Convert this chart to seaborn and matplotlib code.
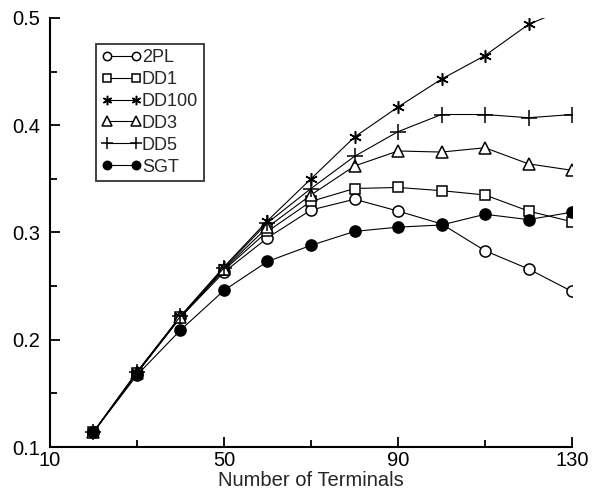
import matplotlib
matplotlib.use("Agg")
import matplotlib.pyplot as plt
import seaborn as sns
import pandas as pd
from matplotlib.ticker import FixedLocator

terminals = [20, 30, 40, 50, 60, 70, 80, 90, 100, 110, 120, 130]
series_names = ["2PL", "DD1", "DD100", "DD3", "DD5", "SGT"]
v_2pl   = [0.114, 0.169, 0.221, 0.263, 0.295, 0.321, 0.331, 0.320, 0.308, 0.283, 0.266, 0.245]
v_dd1   = [0.114, 0.169, 0.221, 0.265, 0.301, 0.329, 0.341, 0.342, 0.339, 0.335, 0.320, 0.310]
v_dd100 = [0.114, 0.170, 0.222, 0.268, 0.311, 0.350, 0.389, 0.417, 0.443, 0.465, 0.494, 0.511]
v_dd3   = [0.114, 0.169, 0.221, 0.266, 0.305, 0.335, 0.362, 0.376, 0.375, 0.379, 0.364, 0.358]
v_dd5   = [0.114, 0.170, 0.222, 0.267, 0.309, 0.341, 0.371, 0.394, 0.410, 0.410, 0.407, 0.410]
v_sgt   = [0.114, 0.167, 0.209, 0.246, 0.273, 0.288, 0.301, 0.305, 0.307, 0.317, 0.312, 0.319]
values = [v_2pl, v_dd1, v_dd100, v_dd3, v_dd5, v_sgt]
x_ticks = [10, 50, 90, 130]
x_minor = [30, 70, 110]
y_ticks = [0.1, 0.2, 0.3, 0.4, 0.5]
y_minor = [0.15, 0.25, 0.35, 0.45]
x_ticklabels = ["10", "50", "90", "130"]
y_ticklabels = ["0.1", "0.2", "0.3", "0.4", "0.5"]

rows = []
for name, vals in zip(series_names, values):
    for t, v in zip(terminals, vals):
        rows.append({"Terminals": t, "Value": v, "Series": name})
df = pd.DataFrame(rows)

sns.set_style("ticks")
plt.rcParams['font.family'] = ['Liberation Sans', 'DejaVu Sans']

fig = plt.figure(figsize=(5.93, 4.97), dpi=100)
ax = fig.add_axes([0.0843, 0.1006, 0.8803, 0.8632])

styles = {
    "2PL":   dict(marker="o", mfc="white", ms=8),
    "DD1":   dict(marker="s", mfc="white", ms=7.5),
    "DD100": dict(marker=(6, 2, 0), mfc="black", ms=9),
    "DD3":   dict(marker="^", mfc="white", ms=9),
    "DD5":   dict(marker="+", mfc="black", ms=11),
    "SGT":   dict(marker="o", mfc="black", ms=8),
}

handles = []
for name in series_names:
    st = styles[name]
    sub = df[df["Series"] == name]
    sns.lineplot(data=sub, x="Terminals", y="Value", ax=ax, color="black",
                 linewidth=0.8, marker=st["marker"], markersize=st["ms"],
                 markerfacecolor=st["mfc"], markeredgecolor="black",
                 markeredgewidth=1.1, label=name, legend=False, errorbar=None)
    handles.append(ax.lines[-1])

ax.set_xlim(10, 130)
ax.set_ylim(0.1, 0.5)
ax.xaxis.set_major_locator(FixedLocator(x_ticks))
ax.xaxis.set_minor_locator(FixedLocator(x_minor))
ax.yaxis.set_major_locator(FixedLocator(y_ticks))
ax.yaxis.set_minor_locator(FixedLocator(y_minor))
ax.set_xticklabels(x_ticklabels)
ax.set_yticklabels(y_ticklabels)
ax.tick_params(which="major", direction="in", length=7, width=1.3, labelsize=14.5,
               colors="black")
ax.tick_params(which="minor", direction="in", length=5, width=1.3, colors="black")
ax.tick_params(axis="y", which="major", pad=7)
ax.tick_params(axis="x", which="major", pad=3)
for s in ["top", "right"]:
    ax.spines[s].set_visible(False)
for s in ["left", "bottom"]:
    ax.spines[s].set_linewidth(1.5)
    ax.spines[s].set_color("black")

ax.set_xlabel("Number of Terminals", fontsize=14.5, labelpad=0.5)
ax.set_ylabel("")

leg = ax.legend(handles=handles, labels=series_names, loc="upper left",
                bbox_to_anchor=(0.088, 0.94), numpoints=2, handlelength=2.2,
                handletextpad=0.05, borderpad=0.3, labelspacing=0.27,
                markerscale=0.75, fontsize=13, frameon=True, fancybox=False,
                borderaxespad=0)
leg.get_frame().set_edgecolor("black")
leg.get_frame().set_linewidth(1.3)

fig.savefig("out.png", dpi=100)
